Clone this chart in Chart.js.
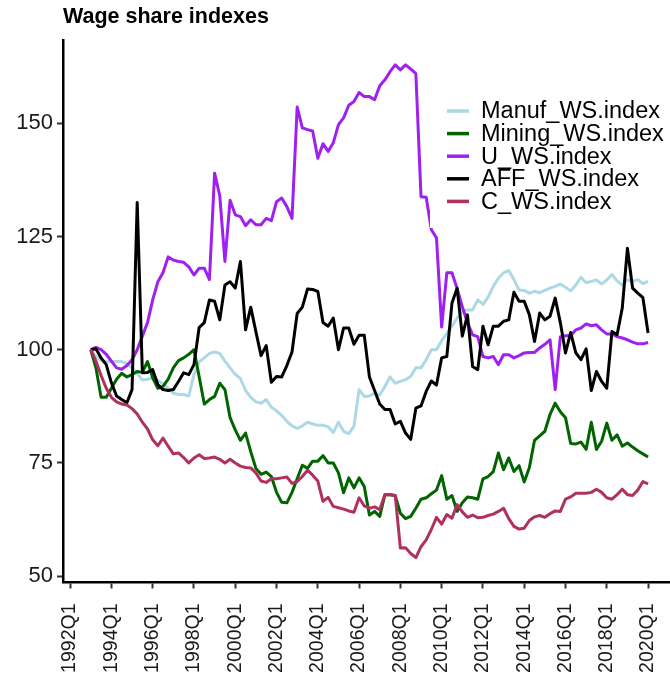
<!DOCTYPE html>
<html>
<head>
<meta charset="utf-8">
<script src="https://cdn.jsdelivr.net/npm/chart.js@4/dist/chart.umd.min.js"></script>
<style>
  html, body { margin: 0; padding: 0; background: #fff; }
</style>
</head>
<body>
<canvas id="c" width="670" height="674"></canvas>
<script>
// Wage share indexes, quarterly, 1993Q1 .. 2020Q1 (index 100 = 1993Q1)

// ---------- data ----------
const FIRST_INDEX = 4; // 1993Q1, counted in quarters from 1992Q1
const xTickLabels = ['1992Q1','1994Q1','1996Q1','1998Q1','2000Q1','2002Q1','2004Q1',
  '2006Q1','2008Q1','2010Q1','2012Q1','2014Q1','2016Q1','2018Q1','2020Q1'];
const yTicks = [50, 75, 100, 125, 150];

const seriesNames = ['Manuf_WS.index', 'Mining_WS.index', 'U_WS.index', 'AFF_WS.index', 'C_WS.index'];
const seriesColors = ['#add8e6', '#006400', '#a020f0', '#000000', '#b03060'];

const manuf = [
  100, 98.5, 97.6, 97.4,   97.4, 97.4, 97.4, 96.9,   96, 94.8, 93.3, 93.5,   93.8, 93.2, 92.5, 91.5,
  90.4, 90.1, 90.1, 89.8,  94.5, 97.3, 98.2, 99.2,   99.5, 99.2, 97.5, 96,   94.6, 93.6, 91, 89.5,
  88.5, 88.2, 89, 87.3,    86.5, 85.5, 84.2, 83.2,   82.6, 83.2, 84, 83.6,   83.3, 83.3, 83, 81.7,
  84, 82, 81.5, 83.1,      91.2, 89.7, 89.8, 90.4,   90, 91.9, 94, 92.6,     93, 93.4, 94.1, 96,
  96, 97.8, 100, 100,      102, 103.6, 105.2, 107,   108.5, 108.8, 108.8, 111, 110, 111.6, 114, 115.8,
  117, 117.5, 115.5, 113.2, 113.1, 112.5, 112.9, 112.6, 113.1, 113.6, 114, 114.5, 113.8, 113, 114.3, 116,
  114.8, 115.1, 115.4, 114.5, 115.4, 116.6, 115.2, 114.3, 115.4, 115.1, 115.5, 114.6,
  115.1
];
const mining = [
  100, 96, 89.5, 89.5,     91.5, 93.5, 94.8, 94,     94.5, 95.2, 95, 97.4,   93.8, 91.5, 91.9, 93.5,
  96, 97.6, 98.2, 99,      100, 94.1, 88, 89,        89.7, 92.6, 91.2, 85,   82.3, 80, 81.6, 77.5,
  73.8, 72.5, 73, 72,      68.5, 66.3, 66.2, 68.5,   71.5, 74.5, 73.8, 75.4, 75.4, 76.6, 75, 75,
  72.8, 68.4, 71.7, 69.5,  71.7, 69.8, 63.5, 64.3,   63.2, 68, 68, 67.8,     63.9, 62.7, 63.2, 65,
  67, 67.3, 68.2, 69,      72.2, 67, 67.8, 64.3,     66.2, 67.5, 67.3, 67,   71.5, 72, 73.1, 77.2,
  73.5, 76.1, 73.1, 74.4,  70.8, 74, 80, 81,         82, 85.7, 88.2, 86.3,   85, 79.3, 79.2, 79.6,
  78, 84, 78, 79.8,        83.8, 80, 81.2, 78.7,     79.4, 78.5, 77.7, 77,
  76.3
];
const utilities = [
  100, 100.5, 100, 99,     97.5, 96, 95.7, 96.5,     97.8, 100, 103, 106,    111, 115, 117, 120.5,
  119.8, 119.5, 119.3, 118.3, 116.5, 118, 118, 115.5, 139, 134, 119.5, 133, 129.8, 129.4, 127.4, 128.7,
  127.6, 127.6, 129, 128.5, 132.7, 133.5, 131.6, 129, 153.6, 149, 148.6, 148.3, 142.3, 145.5, 143.8, 145.7,
  149.7, 151.2, 154, 154.8, 156.8, 155.9, 155.9, 155.2, 158.3, 159.6, 161.4, 162.9, 161.8, 162.9, 162, 161,
  133.8, 133.7, 126.5, 124.7, 105, 117, 117, 113.5,  109.5, 106, 103.3, 102.9, 98.5, 98.2, 98.5, 96.7,
  98.9, 98.9, 98.2, 98.7,  99.3, 99.4, 99.4, 100.4,  101.2, 102.2, 91.2, 102.9, 103.1, 103.1, 104.4, 104.8,
  105.7, 105.3, 105.5, 104.4, 103.5, 103.5, 102.9, 102.6, 102.2, 101.7, 101.3, 101.3,
  101.6
];
const agriculture = [
  100, 100.2, 98.2, 96.7,  92.7, 89.8, 89, 88.3,     91.2, 132.5, 94.9, 95,  95.6, 92.3, 91.2, 91,
  91.2, 93, 94.9, 94.5,    96.7, 104.9, 106, 111,    110.7, 106.6, 114.3, 115, 113.6, 119.5, 104.4, 109.4,
  104, 98.7, 100.9, 92.8,  94.1, 94, 96.5, 99.5,     108, 109.4, 113.4, 113.3, 112.9, 106, 105.2, 107,
  100, 104.8, 104.8, 101.2, 103.2, 103.2, 94, 91,    88, 86.8, 86.8, 83.6,   84.2, 81.6, 80.2, 87.1,
  87.6, 90.8, 93.1, 92.2,  98.2, 98.5, 110.3, 113.6, 103, 107.7, 96.3, 95.6, 105.2, 101.1, 105.2, 105.2,
  106.3, 106.6, 112.7, 110.7, 110.7, 107.7, 101.8, 108.1, 106.6, 107.4, 111.4, 106, 99.3, 103.8, 99.3, 97.8,
  100.2, 91, 95.2, 93,     91.5, 104, 103.3, 109.2,  122.4, 113.6, 112.5, 111.5,
  103.7
];
const construction = [
  100, 97.5, 94.3, 91.5,   89.5, 88.5, 88, 87.8,     87, 85.8, 84, 82.5,     80.1, 78.8, 80.5, 78.7,
  77, 77.2, 76.2, 75,      76.1, 76.8, 76, 76.1,     76.3, 75.8, 75, 75.8,   75, 74.3, 74, 73.9,
  72.8, 71, 70.7, 71.5,    71.5, 71.7, 71.9, 70.5,   70.9, 72, 73.4, 72.3,   71, 66.5, 67.4, 65.4,
  65.1, 64.8, 64.4, 64.1,  67.3, 65.5, 65, 65.3,     64.7, 68, 68, 67.8,     56.2, 56.3, 55, 54.1,
  56.5, 58, 60.3, 63,      61.5, 63.6, 62.8, 65.8,   64.2, 63, 63.5, 62.9,   63, 63.4, 63.7, 64.3,
  65, 62.7, 61, 60.4,      60.6, 62.3, 63.1, 63.4,   63, 63.8, 64.4, 64.3,   67, 67.5, 68.3, 68.3,
  68.3, 68.5, 69.2, 68.5,  67.3, 67, 68, 69.2,       68, 67.8, 69, 70.9,
  70.4
];

const allSeries = [manuf, mining, utilities, agriculture, construction];

// ---------- plugins ----------
const FONT = '"Liberation Sans", Arial, Helvetica, sans-serif';

const titlePlugin = {
  id: 'plotTitle',
  afterDraw(chart) {
    const ctx = chart.ctx;
    ctx.save();
    ctx.fillStyle = '#000';
    ctx.font = 'bold 21.5px ' + FONT;
    ctx.textAlign = 'left';
    ctx.textBaseline = 'alphabetic';
    ctx.fillText('Wage share indexes', 63, 23);
    ctx.restore();
  }
};

// legend sits inside the panel, on a white box like ggplot's
const insideLegend = {
  id: 'insideLegend',
  afterDatasetsDraw(chart) {
    const ctx = chart.ctx;
    ctx.save();
    ctx.fillStyle = '#fff';
    ctx.fillRect(430, 90, 240, 138);
    ctx.font = '23.5px ' + FONT;
    ctx.textAlign = 'left';
    ctx.textBaseline = 'middle';
    chart.data.datasets.forEach((ds, i) => {
      const y = 111 + i * 22.6;
      ctx.strokeStyle = ds.borderColor;
      ctx.lineWidth = 3.5;
      ctx.beginPath(); ctx.moveTo(447, y); ctx.lineTo(469, y); ctx.stroke();
      ctx.fillStyle = '#000';
      ctx.fillText(ds.label, 481, y + 1);
    });
    ctx.restore();
  }
};

// ---------- chart ----------
const datasets = seriesNames.map((name, i) => ({
  label: name,
  data: allSeries[i].map((v, k) => ({ x: FIRST_INDEX + k, y: v })),
  borderColor: seriesColors[i],
  backgroundColor: seriesColors[i],
  borderWidth: 3,
  borderJoinStyle: 'round',
  pointRadius: 0,
  tension: 0,
  fill: false,
  order: seriesNames.length - i
}));

const axisFont = { family: FONT, size: 22 };

new Chart(document.getElementById('c'), {
  type: 'line',
  data: { datasets },
  options: {
    responsive: false,
    animation: false,
    layout: { padding: { top: 40, right: 0, bottom: 0, left: 0 } },
    plugins: { legend: { display: false }, tooltip: { enabled: false } },
    scales: {
      x: {
        type: 'linear',
        min: -1.38,
        max: 116.25,
        afterFit(s) { s.height = 91.5; s.paddingLeft = 0; s.paddingRight = 0; },
        afterBuildTicks(s) { s.ticks = xTickLabels.map((_, i) => ({ value: i * 8 })); },
        ticks: {
          autoSkip: false,
          minRotation: 90,
          maxRotation: 90,
          padding: 15,
          color: '#1a1a1a',
          font: { family: FONT, size: 19.5 },
          callback: (v, i) => xTickLabels[i]
        },
        grid: { drawOnChartArea: false, drawTicks: true, tickLength: 6, tickColor: '#333', tickWidth: 2 },
        border: { display: true, color: '#000', width: 2.5 }
      },
      y: {
        min: 48.6,
        max: 168.4,
        afterFit(s) { s.width = 63; s.paddingTop = 0; s.paddingBottom = 0; },
        afterBuildTicks(s) { s.ticks = yTicks.map(v => ({ value: v })); },
        ticks: { padding: 4, color: '#1a1a1a', font: axisFont },
        grid: { drawOnChartArea: false, drawTicks: true, tickLength: 6, tickColor: '#333', tickWidth: 2 },
        border: { display: true, color: '#000', width: 2.5 }
      }
    }
  },
  plugins: [titlePlugin, insideLegend]
});
</script>
</body>
</html>
